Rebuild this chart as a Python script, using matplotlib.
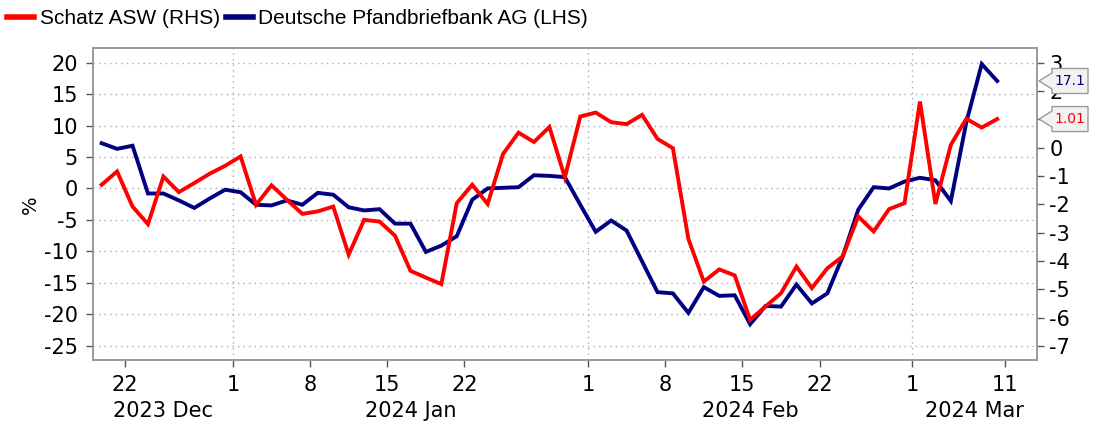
import numpy as np
import matplotlib
matplotlib.use("Agg")
import matplotlib.pyplot as plt
from matplotlib.lines import Line2D
from matplotlib.patches import Polygon

plt.rcParams["axes.unicode_minus"] = False

# Deutsche Pfandbriefbank AG, % (left axis), one value per business day
pfandbrief = [7.2, 6.3, 6.8, -0.8, -0.8, -1.9, -3.1, -1.6, -0.2, -0.6,
              -2.6, -2.7, -1.9, -2.6, -0.7, -1.0, -3.0, -3.5, -3.3, -5.6,
              -5.6, -10.1, -9.1, -7.6, -1.8, 0.0, 0.1, 0.2, 2.1, 2.0,
              1.8, -2.6, -6.9, -5.1, -6.7, -11.6, -16.5, -16.7, -19.8, -15.7,
              -17.1, -17.0, -21.6, -18.7, -18.8, -15.3, -18.3, -16.7, -10.8, -3.4,
              0.2, 0.0, 1.1, 1.7, 1.3, -2.0, 10.5, 19.8, 17.1]

# Schatz ASW (right axis)
schatz = [-1.31, -0.84, -2.08, -2.70, -1.02, -1.57, -1.25, -0.92, -0.64, -0.31,
          -2.02, -1.33, -1.84, -2.34, -2.25, -2.08, -3.78, -2.55, -2.61, -3.11,
          -4.35, -4.59, -4.82, -1.96, -1.31, -1.99, -0.22, 0.53, 0.20, 0.73,
          -1.05, 1.10, 1.24, 0.90, 0.83, 1.16, 0.31, -0.02, -3.22, -4.73,
          -4.30, -4.51, -6.08, -5.61, -5.14, -4.20, -4.96, -4.26, -3.84, -2.43,
          -2.96, -2.17, -1.96, 1.63, -1.99, 0.10, 1.02, 0.71, 1.01]

# x-axis: index of the business day each tick sits after, and its label
tick_idx = [1, 8, 13, 18, 23, 31, 36, 41, 46, 52, 58]
tick_labels = ["22", "1", "8", "15", "22", "1", "8", "15", "22", "1", "11"]
month_names = ["2023 Dec", "2024 Jan", "2024 Feb", "2024 Mar"]
month_start_idx = [8, 31, 52]

last_labels = ["17.1", "1.01"]

BLUE = "#000080"
RED = "#ff0000"
GREY = "#9a9a9a"

W, H = 1094, 424
fig = plt.figure(figsize=(W / 100, H / 100), dpi=100)
ax = fig.add_axes([93 / W, 64 / H, 944 / W, 312 / H])
ax2 = ax.twinx()

x = np.arange(len(pfandbrief))
ax.plot(x, pfandbrief, color=BLUE, lw=2.8, solid_joinstyle="miter")
ax2.plot(x, schatz, color=RED, lw=2.8, solid_joinstyle="miter")

ax.set_xlim(-0.56, 60.58)
ax.set_ylim(-27.3, 22.35)
ax2.set_ylim(-7.5, 3.52)

ax.set_yticks(np.arange(-25, 21, 5))
ax2.set_yticks(np.arange(-7, 4, 1))

tick_pos = [i + 0.5 for i in tick_idx]
ax.set_xticks(tick_pos)
ax.set_xticklabels(tick_labels)

# grid: dotted horizontals, verticals only at month starts
ax.yaxis.grid(True, linestyle=(0, (1, 3)), color="#aaaaaa", lw=1.0)
for m in month_start_idx:
    ax.axvline(m + 0.5, linestyle=(0, (1, 3)), color="#aaaaaa", lw=1.0, zorder=0)

for a in (ax, ax2):
    for s in a.spines.values():
        s.set_color(GREY)
        s.set_linewidth(1.2)
    a.tick_params(colors="#555555", labelcolor="black", labelsize=15,
                  direction="out", length=5, width=1)
ax.tick_params(axis="y", pad=6)
ax2.tick_params(axis="y", pad=4)
ax.tick_params(axis="x", pad=6)

# month labels, centred on the visible part of each month
xmin, xmax = ax.get_xlim()
edges = [xmin] + [m + 0.5 for m in month_start_idx] + [xmax]
for k, name in enumerate(month_names):
    ax.text((edges[k] + edges[k + 1]) / 2, -0.163, name, ha="center", va="center",
            fontsize=15, transform=ax.get_xaxis_transform())

fig.text(30 / W, 1 - 205 / H, "%", rotation=90, ha="center", va="center", fontsize=14)

# last-value tags on the right, drawn over the right tick labels
def tag(axis, value, text, color):
    y_pix = axis.transData.transform((0, value))[1]
    pts = [(1039, y_pix), (1052, y_pix + 8), (1052, y_pix + 12.5), (1088, y_pix + 12.5),
           (1088, y_pix - 12.5), (1052, y_pix - 12.5), (1052, y_pix - 8)]
    pts = [(px / W, py / H) for px, py in pts]
    fig.add_artist(Polygon(pts, closed=True, transform=fig.transFigure,
                           facecolor="#f2f2f2", edgecolor=GREY, lw=1.0, zorder=5))
    fig.text(1070 / W, y_pix / H, text, ha="center", va="center", fontsize=10,
             color=color, zorder=6)

tag(ax, pfandbrief[-1], last_labels[0], BLUE)
tag(ax2, schatz[-1], last_labels[1], RED)

handles = [Line2D([], [], color=RED, lw=4), Line2D([], [], color=BLUE, lw=4)]
fig.legend(handles, ["Schatz ASW (RHS)", "Deutsche Pfandbriefbank AG (LHS)"],
           loc="upper left", bbox_to_anchor=(0.0, 0.995), ncol=2, frameon=False,
           prop={"family": "Liberation Sans", "size": 15}, handlelength=1.3,
           handletextpad=0.25, columnspacing=0.3, borderaxespad=0.15, borderpad=0.2)

fig.savefig("out.png", dpi=100)
